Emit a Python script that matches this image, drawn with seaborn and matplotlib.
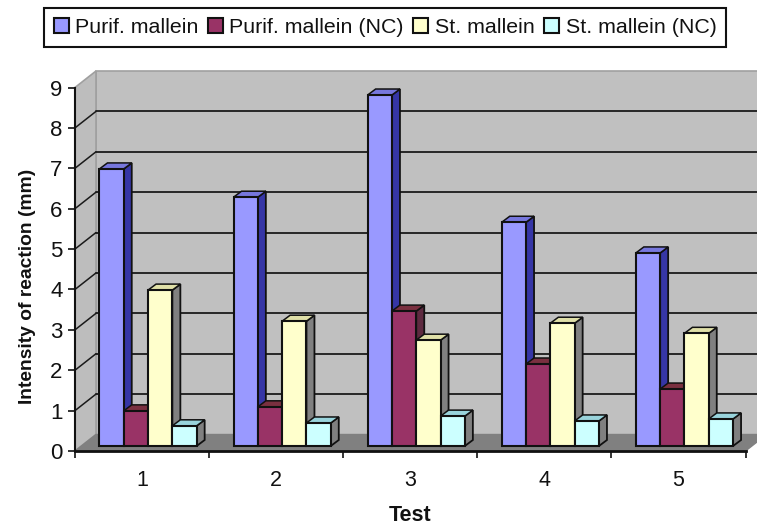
import numpy as np
import pandas as pd
import matplotlib
matplotlib.use('Agg')
import matplotlib.pyplot as plt
from matplotlib.patches import Polygon
import seaborn as sns

tests = ['1', '2', '3', '4', '5']
series = ['Purif. mallein', 'Purif. mallein (NC)', 'St. mallein', 'St. mallein (NC)']

purif = [6.86, 6.16, 8.69, 5.54, 4.78]
purif_nc = [0.87, 0.97, 3.34, 2.03, 1.41]
st = [3.86, 3.09, 2.62, 3.04, 2.79]
st_nc = [0.50, 0.57, 0.74, 0.62, 0.67]

colors = ['#9999FF', '#993366', '#FFFFCC', '#CCFFFF']
side_colors = ['#3636A6', '#5E2A40', '#808080', '#808080']
top_colors = ['#7777DD', '#7A3040', '#E0E0A8', '#99D4DC']

W, H = 757, 525
x0, x1 = 75, 745.5    # front plane of the axes, pixels
y0, y9 = 451, 87.5

df = pd.DataFrame({
    'test': tests * 4,
    'series': np.repeat(series, 5),
    'value': purif + purif_nc + st + st_nc,
})

sns.set_theme(style='white')
plt.rcParams['font.family'] = ['Liberation Sans', 'DejaVu Sans']

fig = plt.figure(figsize=(W / 100, H / 100), dpi=100)
ax = fig.add_axes([x0 / W, 1 - y0 / H, (x1 - x0) / W, (y0 - y9) / H])
ax.set_xlim(-0.5, 4.5)
ax.set_ylim(0, 9)
ax.patch.set_visible(False)

# chart depth in data units
px_x = 5 / (x1 - x0)
px_y = 9 / (y0 - y9)
dx = 21 * px_x
dy = 16.5 * px_y

# walls and floor
wall_edge = '#A0A0A0'
ax.add_patch(Polygon([(-0.5 + dx, dy), (4.5 + dx, dy), (4.5 + dx, 9 + dy), (-0.5 + dx, 9 + dy)],
                     fc='#C0C0C0', ec=wall_edge, lw=1.2, clip_on=False, zorder=1))
ax.add_patch(Polygon([(-0.5, 0), (-0.5 + dx, dy), (-0.5 + dx, 9 + dy), (-0.5, 9)],
                     fc='#BDBDBD', ec=wall_edge, lw=1.2, clip_on=False, zorder=1))
ax.add_patch(Polygon([(-0.5, 0), (-0.5 + dx, dy), (4.5 + dx, dy), (4.5, 0)],
                     fc='#808080', ec='#808080', lw=1, clip_on=False, zorder=1))
for k in range(1, 9):
    ax.plot([-0.5 + dx, 4.5 + dx], [k + dy, k + dy], color='#1a1a1a', lw=1.3, clip_on=False, zorder=2)
    ax.plot([-0.5, -0.5 + dx], [k, k + dy], color='#1a1a1a', lw=1.1, clip_on=False, zorder=2)

for s in ['top', 'right']:
    ax.spines[s].set_visible(False)
for s in ['left', 'bottom']:
    ax.spines[s].set_color('#111111')
    ax.spines[s].set_linewidth(1.5)
ax.spines['bottom'].set_linewidth(2)

ax.set_yticks(range(10))
ax.set_xticks(np.arange(-0.5, 5))
ax.set_xticklabels([])
ax.set_xticks(range(5), tests, minor=True)
ax.tick_params(axis='both', which='major', length=5, width=1.2, color='#111111', left=True, bottom=True, labelsize=16, pad=4)
ax.tick_params(axis='x', which='minor', length=0, labelsize=15.5, pad=14, labelcolor='#111111')
ax.tick_params(axis='y', labelcolor='#111111')
ax.set_xlabel('Test', fontweight='bold', fontsize=15.5, labelpad=10, color='#111111')
ax.set_ylabel('Intensity of reaction (mm)', fontweight='bold', fontsize=13.9, color='#111111')
ax.yaxis.set_label_coords(-0.0585, 0.452)

# bars sit a little behind the front plane
bar_ax = fig.add_axes([(x0 + 6) / W, 1 - (y0 - 5) / H, (x1 - x0) / W, (y0 - y9) / H])
sns.barplot(data=df, x='test', y='value', hue='series', hue_order=series, order=tests,
            palette=colors, saturation=1, width=0.725, gap=0, dodge=True,
            edgecolor='#111111', linewidth=1.5, ax=bar_ax)
bar_ax.set_xlim(-0.5, 4.5)
bar_ax.set_ylim(0, 9)

bar_dx = 8 * px_x
bar_dy = 6 * px_y
for i, cont in enumerate(bar_ax.containers):
    for rect in cont:
        x, w, h = rect.get_x(), rect.get_width(), rect.get_height()
        r = x + w
        rect.set_zorder(3 + i + 0.5)
        rect.set_clip_on(False)
        bar_ax.add_patch(Polygon([(r, 0), (r + bar_dx, bar_dy), (r + bar_dx, h + bar_dy), (r, h)],
                                 fc=side_colors[i], ec='#111111', lw=1.3, clip_on=False, zorder=3 + i))
        bar_ax.add_patch(Polygon([(x, h), (x + bar_dx, h + bar_dy), (r + bar_dx, h + bar_dy), (r, h)],
                                 fc=top_colors[i], ec='#111111', lw=1.1, clip_on=False, zorder=3 + i))

sns.move_legend(bar_ax, 'center', bbox_to_anchor=(385 / W, 1 - 27.5 / H), bbox_transform=fig.transFigure,
                ncol=4, title=None, frameon=True, fontsize=15.4, handlelength=0.7, handleheight=0.7,
                handletextpad=0.3, columnspacing=0.45, borderpad=0.45, borderaxespad=0, fancybox=False,
                edgecolor='#111111', framealpha=1, labelcolor='#111111')
bar_ax.get_legend().get_frame().set_linewidth(1.5)
bar_ax.set_axis_off()

fig.savefig('out.png', dpi=100)
